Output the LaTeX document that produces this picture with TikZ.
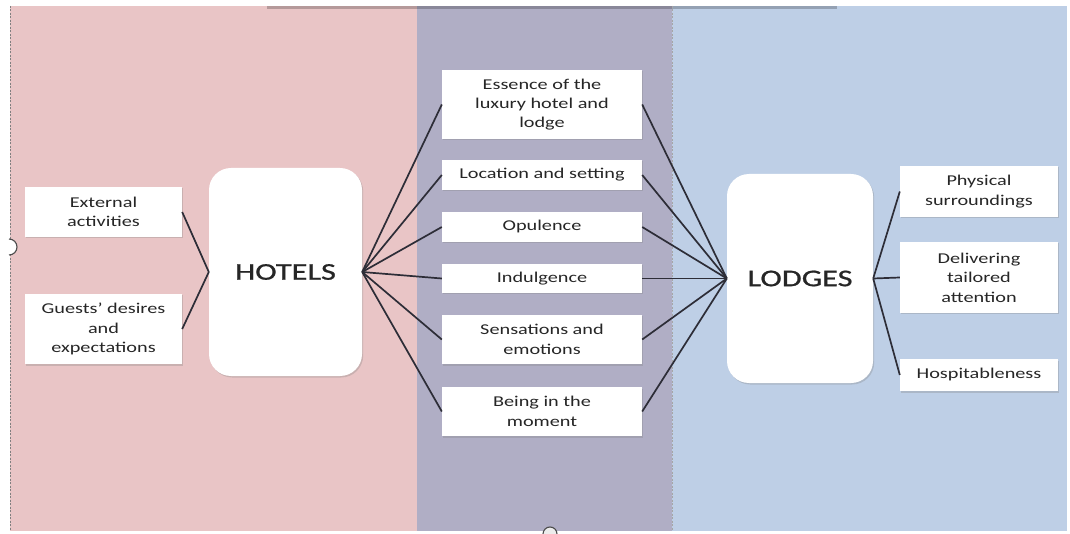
\documentclass[tikz,border=0pt]{standalone}
\usepackage{fontspec}
\setmainfont{Carlito}[FakeStretch=1.35]
\newfontfamily\hubfont{Carlito}[FakeStretch=1.35,FakeBold=0.8]
\usepackage{tikz}
\usetikzlibrary{shadows}

\definecolor{hotelpink}{RGB}{233,197,198}
\definecolor{themepurple}{RGB}{176,174,197}
\definecolor{lodgeblue}{RGB}{190,207,230}
\definecolor{linkgrey}{RGB}{45,45,55}

\begin{document}
\begin{tikzpicture}[x=1pt,y=-1pt,
    item/.style={fill=white,inner sep=0pt,align=center,text=black!85,
      font=\fontsize{15}{19.4}\selectfont,
      drop shadow={shadow xshift=1.2pt,shadow yshift=-1.5pt,opacity=.3}},
    hub/.style={item,rounded corners=22pt,font=\hubfont\fontsize{24}{28}\selectfont},
    link/.style={draw=linkgrey,line width=1.7pt}]
    \useasboundingbox (0,0) rectangle (1070,534);
    % background panels
    \fill[white] (0,0) rectangle (1070,534);
    \fill[hotelpink] (10,6) rectangle (417,531);
    \fill[themepurple] (417,6) rectangle (672,531);
    \fill[lodgeblue] (672,6) rectangle (1067,531);
    \fill[black,opacity=.22] (267,6) rectangle (837,9);
    \draw[gray,dashed,dash pattern=on 2pt off 1.5pt] (10,6) -- (10,531);
    \draw[gray!70,dashed,dash pattern=on 2pt off 1.5pt] (672,6) -- (672,531);
    \draw[fill=white,draw=black!70,line width=1.1pt] (9,239) arc[start angle=-90,end angle=90,radius=8];
    \draw[fill=white!85!gray,draw=black!70,line width=1.1pt] (543,534) arc[start angle=180,end angle=360,radius=7];

    % hotels side
    \node[item,minimum width=157pt,minimum height=50pt] (ext) at (103.5,212) {External\\activities};
    \node[item,minimum width=157pt,minimum height=70pt] (guests) at (103.5,329) {Guests' desires\\and\\expectations};
    \node[hub,minimum width=153pt,minimum height=208pt] (hotels) at (285.5,272) {HOTELS};

    % shared themes
    \node[item,minimum width=200pt,minimum height=69pt] (essence) at (542,104.5) {Essence of the\\luxury hotel and\\lodge};
    \node[item,minimum width=200pt,minimum height=30pt] (location) at (542,175) {Location and setting};
    \node[item,minimum width=200pt,minimum height=30pt] (opulence) at (542,227) {Opulence};
    \node[item,minimum width=200pt,minimum height=29pt] (indulgence) at (542,278.5) {Indulgence};
    \node[item,minimum width=200pt,minimum height=49pt] (sensations) at (542,339.5) {Sensations and\\emotions};
    \node[item,minimum width=200pt,minimum height=49pt] (moment) at (542,411.5) {Being in the\\moment};

    % lodges side
    \node[hub,minimum width=146pt,minimum height=209pt] (lodges) at (800,278.5) {LODGES};
    \node[item,minimum width=158pt,minimum height=51pt] (physical) at (979,191.5) {Physical\\surroundings};
    \node[item,minimum width=158pt,minimum height=71pt] (tailored) at (979,277.5) {Delivering\\tailored\\attention};
    \node[item,minimum width=158pt,minimum height=32pt] (hospitable) at (979,375) {Hospitableness};

    % connectors
    \draw[link] (ext.east) -- (hotels.west);
    \draw[link] (guests.east) -- (hotels.west);
    \draw[link] (hotels.east) -- (essence.west);
    \draw[link] (hotels.east) -- (location.west);
    \draw[link] (hotels.east) -- (opulence.west);
    \draw[link] (hotels.east) -- (indulgence.west);
    \draw[link] (hotels.east) -- (sensations.west);
    \draw[link] (hotels.east) -- (moment.west);
    \draw[link] (essence.east) -- (lodges.west);
    \draw[link] (location.east) -- (lodges.west);
    \draw[link] (opulence.east) -- (lodges.west);
    \draw[link] (indulgence.east) -- (lodges.west);
    \draw[link] (sensations.east) -- (lodges.west);
    \draw[link] (moment.east) -- (lodges.west);
    \draw[link] (lodges.east) -- (physical.west);
    \draw[link] (lodges.east) -- (tailored.west);
    \draw[link] (lodges.east) -- (hospitable.west);
\end{tikzpicture}
\end{document}
